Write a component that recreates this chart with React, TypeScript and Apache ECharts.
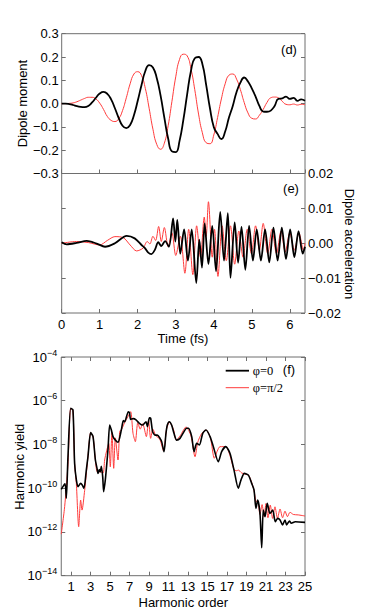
import React, { useEffect, useRef } from "react";
import * as echarts from "echarts";

// ---------- Panel (d): dipole moment vs time ----------
const dipoleTime = [
  0, 0.1, 0.2, 0.3, 0.4, 0.5, 0.6, 0.7, 0.8, 0.9, 1.0, 1.1, 1.2, 1.3, 1.4, 1.5, 1.6, 1.7, 1.8, 1.9,
  2.0, 2.1, 2.2, 2.3, 2.4, 2.5, 2.6, 2.7, 2.8, 2.9, 3.0, 3.1, 3.2, 3.3, 3.4, 3.5, 3.6, 3.7, 3.8, 3.9,
  4.0, 4.1, 4.2, 4.3, 4.4, 4.5, 4.6, 4.7, 4.8, 4.9, 5.0, 5.1, 5.2, 5.3, 5.4, 5.5, 5.6, 5.7, 5.8, 5.9,
  6.0, 6.1, 6.2, 6.3, 6.4,
];
const dipoleBlack = [
  0.0, 0.0, -0.002, -0.006, -0.011, -0.014, -0.015, -0.01, 0.005, 0.025, 0.043, 0.05, 0.042, 0.018, -0.02,
  -0.062, -0.095, -0.105, -0.092, -0.05, 0.012, 0.08, 0.14, 0.165, 0.155, 0.11, 0.035, -0.06, -0.15, -0.205,
  -0.208, -0.16, -0.07, 0.04, 0.14, 0.195, 0.2, 0.17, 0.08, -0.02, -0.1, -0.13, -0.152, -0.12, -0.06,
  -0.01, 0.05, 0.09, 0.112, 0.095, 0.065, 0.03, -0.01, -0.034, -0.035, -0.03, -0.01, 0.02, 0.022, 0.03,
  0.02, 0.025, 0.012, 0.018, 0.012,
];
const dipoleRed = [
  0, 0, 0.001, 0.003, 0.008, 0.015, 0.022, 0.027, 0.027, 0.02, 0.002, -0.025, -0.055, -0.072, -0.077,
  -0.065, -0.03, 0.025, 0.085, 0.127, 0.137, 0.12, 0.065, -0.02, -0.11, -0.175, -0.196, -0.17, -0.095, 0.01,
  0.115, 0.19, 0.212, 0.205, 0.15, 0.06, -0.045, -0.125, -0.168, -0.172, -0.135, -0.06, 0.02, 0.085, 0.122,
  0.127, 0.105, 0.06, 0.005, -0.04, -0.063, -0.066, -0.05, -0.025, 0.005, 0.025, 0.028, 0.025, 0.01, -0.003,
  -0.005, -0.002, -0.006, -0.003, -0.005,
];

// ---------- Panel (e): dipole acceleration vs time [t, value] ----------
const accelBlack: [number, number][] = [
  [0.0, 0.0003], [0.13, -0.0003], [0.39, 0.0001], [0.66, 0.0007], [0.92, -0.0001], [1.14, -0.001],
  [1.4, 0.0], [1.71, 0.0021], [1.92, 0.0014], [2.1, -0.0005], [2.19, -0.0014], [2.27, -0.0026],
  [2.36, -0.0031], [2.45, -0.0019], [2.54, 0.0003], [2.62, -0.0008], [2.72, 0.0006], [2.82, -0.001],
  [2.93, 0.0071], [2.99, 0.0005], [3.04, 0.0067], [3.12, -0.003], [3.22, 0.004], [3.32, -0.005],
  [3.42, 0.004], [3.54, -0.0114], [3.62, 0.001], [3.69, -0.007], [3.76, 0.0057], [3.86, -0.006],
  [3.96, 0.005], [4.06, -0.008], [4.17, 0.009], [4.27, -0.005], [4.37, 0.0086], [4.44, -0.0099],
  [4.55, 0.006], [4.64, -0.0056], [4.73, 0.0047], [4.83, -0.0076], [4.93, 0.005], [5.03, -0.005],
  [5.13, 0.004], [5.24, -0.005], [5.35, 0.004], [5.46, -0.0055], [5.57, 0.0045], [5.68, -0.005],
  [5.79, 0.0045], [5.9, -0.0045], [6.01, 0.004], [6.12, -0.004], [6.23, 0.0035], [6.34, -0.003],
  [6.4, -0.001],
];
const accelRed: [number, number][] = [
  [0.0, 0.0], [0.39, 0.0005], [0.7, 0.0002], [1.0, -0.0005], [1.2, 0.0008], [1.4, 0.0019],
  [1.62, 0.0016], [1.8, -0.0005], [1.97, -0.0022], [2.14, -0.0014], [2.25, 0.0005], [2.32, -0.0002],
  [2.4, 0.002], [2.47, 0.0008], [2.55, 0.0048], [2.62, 0.0005], [2.7, 0.0045], [2.8, -0.001],
  [2.9, 0.003], [3.0, -0.0035], [3.12, 0.002], [3.24, -0.0086], [3.34, 0.004], [3.45, -0.009],
  [3.55, 0.005], [3.65, -0.004], [3.75, 0.0075], [3.8, 0.002], [3.86, 0.0119], [3.96, -0.004],
  [4.02, 0.004], [4.11, -0.0095], [4.22, 0.005], [4.33, -0.005], [4.44, 0.005], [4.55, -0.006],
  [4.66, 0.0035], [4.77, -0.004], [4.88, 0.004], [4.99, -0.003], [5.1, 0.005], [5.2, -0.002],
  [5.3, 0.0057], [5.42, -0.003], [5.53, 0.004], [5.65, -0.003], [5.77, 0.0035], [5.88, -0.0025],
  [6.0, 0.003], [6.12, -0.002], [6.24, 0.003], [6.36, -0.002], [6.4, 0.0],
];

// ---------- Panel (f): harmonic spectrum [order, log10(yield)] ----------
const spectrumBlack: [number, number][] = [
  [0.0, -10.05], [0.28, -9.85], [0.4, -9.8], [0.52, -10.46], [0.69, -8.56], [0.97, -6.35], [1.2, -6.42],
  [1.37, -8.86], [1.55, -9.62], [1.72, -9.93], [1.99, -9.78], [2.15, -9.85], [2.33, -10.0], [2.57, -9.17],
  [2.74, -8.56], [3.02, -7.46], [3.26, -7.64], [3.5, -8.71], [3.67, -9.09], [3.77, -9.32], [3.9, -9.15],
  [4.0, -9.25], [4.11, -9.0], [4.25, -9.47], [4.35, -10.16], [4.52, -9.62], [4.69, -8.79], [4.8, -8.18],
  [4.97, -7.11], [5.14, -7.34], [5.31, -7.64], [5.55, -7.8], [5.82, -7.9], [6.16, -7.34], [6.37, -6.91],
  [6.5, -6.96], [6.88, -6.5], [7.0, -6.55], [7.12, -6.85], [7.39, -6.82], [7.67, -6.88], [8.01, -7.03],
  [8.35, -7.11], [8.69, -6.96], [8.83, -7.18], [9.05, -6.78], [9.17, -6.8], [9.37, -7.41], [9.61, -7.57],
  [9.85, -7.57], [10.13, -7.72], [10.3, -7.87], [10.54, -8.33], [10.74, -7.49], [10.88, -7.11],
  [11.08, -6.96], [11.32, -7.11], [11.56, -7.49], [11.84, -7.8], [12.18, -7.72], [12.59, -7.41],
  [12.86, -7.26], [13.04, -7.26], [13.38, -7.64], [13.62, -8.33], [13.89, -7.95], [14.17, -8.02],
  [14.51, -7.49], [14.85, -7.34], [15.26, -7.64], [15.6, -8.1], [16.11, -8.79], [16.45, -8.33],
  [16.87, -8.1], [17.3, -8.4], [17.72, -9.17], [18.16, -10.0], [18.44, -9.62], [18.78, -9.32],
  [19.19, -9.4], [19.53, -9.78], [19.77, -10.08], [19.97, -10.92], [20.15, -10.54], [20.38, -11.15],
  [20.56, -12.72], [20.72, -11.0], [20.9, -11.3], [21.13, -10.69], [21.4, -11.15], [21.69, -11.0],
  [21.95, -11.53], [22.2, -11.38], [22.44, -11.45], [22.7, -11.68], [22.95, -11.45], [23.12, -11.68],
  [23.4, -11.5], [23.6, -11.6], [24.0, -11.53], [25.0, -11.56],
];
const spectrumRed: [number, number][] = [
  [0.0, -12.1], [0.35, -10.84], [0.69, -8.9], [0.97, -6.35], [1.2, -6.45], [1.37, -8.86], [1.55, -9.8],
  [1.79, -11.76], [1.99, -10.54], [2.13, -11.0], [2.4, -10.1], [2.6, -9.2], [2.74, -8.56], [3.02, -7.46],
  [3.26, -7.64], [3.5, -8.71], [3.7, -9.25], [4.0, -9.25], [4.3, -9.3], [4.45, -8.71], [4.65, -8.3],
  [4.87, -7.95], [5.03, -9.02], [5.2, -7.45], [5.38, -9.09], [5.55, -7.7], [5.82, -8.71], [6.0, -7.4],
  [6.2, -7.3], [6.5, -7.0], [6.85, -6.72], [7.12, -6.5], [7.36, -7.49], [7.6, -7.87], [7.85, -7.0],
  [8.1, -7.3], [8.35, -7.05], [8.73, -7.64], [8.95, -6.9], [9.17, -7.72], [9.4, -7.3], [9.7, -7.6],
  [10.1, -7.75], [10.5, -8.3], [10.8, -7.3], [11.1, -6.98], [11.5, -7.3], [11.8, -7.8], [12.2, -7.6],
  [12.8, -7.2], [13.3, -7.6], [13.72, -8.56], [14.0, -7.9], [14.4, -7.5], [14.85, -7.34], [15.3, -7.7],
  [15.7, -8.63], [16.0, -8.3], [16.28, -8.1], [16.9, -8.1], [17.3, -8.5], [17.72, -9.15], [18.0, -9.2],
  [18.16, -9.17], [18.5, -9.3], [18.8, -9.35], [19.2, -9.4], [19.5, -9.7], [19.77, -10.1], [19.97, -10.6],
  [20.18, -10.62], [20.38, -11.2], [20.6, -10.75], [20.8, -11.3], [21.0, -10.7], [21.2, -11.35],
  [21.44, -10.77], [21.68, -11.38], [21.92, -10.85], [22.18, -11.38], [22.44, -10.95], [22.7, -11.35],
  [22.95, -11.05], [23.2, -11.3], [23.46, -11.1], [23.8, -11.2], [24.3, -11.22], [25.0, -11.27],
];

const harmonicTicks = [1, 3, 5, 7, 9, 11, 13, 15, 17, 19, 21, 23, 25];
const seriesNames = ["φ=0", "φ=π/2"];

const SANS = "'Liberation Sans', Arial, Helvetica, sans-serif";
const SERIF = "'Liberation Serif', 'Times New Roman', serif";
const FRAME = "#6e6e6e";
const RED = "#ff3b3b";
const minus = (s: string) => s.replace("-", "\u2212");

export default function App() {
  const ref = useRef<HTMLDivElement>(null);
  useEffect(() => {
    if (!ref.current) return;
    const chart = echarts.init(ref.current, undefined, { renderer: "svg" });
    const tick = { show: true, inside: true, length: 4, lineStyle: { color: FRAME, width: 1 } };
    const noLine = { show: false, onZero: false };
    const lbl = { fontSize: 13, fontFamily: SANS, color: "#000", lineHeight: 13 };
    const grids = [
      { left: 61.7, top: 33.7, width: 243.3, height: 139.8 },
      { left: 61.7, top: 173.5, width: 243.3, height: 139.5 },
      { left: 61.25, top: 357, width: 243.75, height: 218.7 },
    ].map((g) => ({ ...g, show: true, borderColor: FRAME, borderWidth: 1, backgroundColor: "transparent" }));

    const option: any = {
      animation: false,
      grid: grids,
      xAxis: [
        { gridIndex: 0, type: "value", min: 0, max: 6.4, interval: 1, axisLine: noLine, axisTick: tick, axisLabel: { show: false }, splitLine: { show: false } },
        { gridIndex: 1, type: "value", min: 0, max: 6.4, interval: 1, axisLine: noLine, axisTick: tick, axisLabel: { ...lbl, margin: 5, showMaxLabel: false }, splitLine: { show: false } },
        { gridIndex: 2, type: "value", min: 0, max: 25, axisLine: noLine, axisTick: { ...tick, customValues: harmonicTicks }, axisLabel: { ...lbl, margin: 4, customValues: harmonicTicks }, splitLine: { show: false } },
        { gridIndex: 2, type: "value", position: "top", min: 0, max: 25, axisLine: noLine, axisTick: { ...tick, customValues: harmonicTicks }, axisLabel: { show: false }, splitLine: { show: false } },
      ],
      yAxis: [
        { gridIndex: 0, type: "value", position: "left", min: -0.3, max: 0.3, interval: 0.1, axisLine: noLine, axisTick: tick, splitLine: { show: false }, axisLabel: { ...lbl, margin: 3, formatter: (v: number) => minus(v.toFixed(1)) } },
        { gridIndex: 0, type: "value", position: "right", min: -0.3, max: 0.3, interval: 0.1, axisLine: noLine, axisTick: tick, splitLine: { show: false }, axisLabel: { show: false } },
        { gridIndex: 1, type: "value", position: "left", min: -0.02, max: 0.02, interval: 0.01, axisLine: noLine, axisTick: tick, splitLine: { show: false }, axisLabel: { show: false } },
        { gridIndex: 1, type: "value", position: "right", min: -0.02, max: 0.02, interval: 0.01, axisLine: noLine, axisTick: tick, splitLine: { show: false }, axisLabel: { ...lbl, margin: 3, formatter: (v: number) => minus(v.toFixed(2)) } },
        {
          gridIndex: 2, type: "value", position: "left", min: -14, max: -4, interval: 2, axisLine: noLine, axisTick: tick, splitLine: { show: false },
          axisLabel: {
            margin: 4,
            formatter: (v: number) => `{b|10}{s|\u2212${Math.abs(Math.round(v))}}`,
            rich: {
              b: { fontSize: 13, fontFamily: SANS, color: "#000" },
              s: { fontSize: 9, fontFamily: SANS, color: "#000", padding: [0, 0, 9, 0] },
            },
          },
        },
        { gridIndex: 2, type: "value", position: "right", min: -14, max: -4, interval: 2, axisLine: noLine, axisTick: tick, splitLine: { show: false }, axisLabel: { show: false } },
      ],
      series: [
        { name: seriesNames[1], type: "line", xAxisIndex: 0, yAxisIndex: 0, showSymbol: false, smooth: true, lineStyle: { color: RED, width: 1 }, data: dipoleTime.map((t, i) => [t, dipoleRed[i]]) },
        { name: seriesNames[0], type: "line", xAxisIndex: 0, yAxisIndex: 0, showSymbol: false, smooth: true, lineStyle: { color: "#000", width: 1.8 }, data: dipoleTime.map((t, i) => [t, dipoleBlack[i]]) },
        { name: seriesNames[1], type: "line", xAxisIndex: 1, yAxisIndex: 3, showSymbol: false, smooth: 0.3, lineStyle: { color: RED, width: 1 }, data: accelRed },
        { name: seriesNames[0], type: "line", xAxisIndex: 1, yAxisIndex: 3, showSymbol: false, smooth: 0.3, lineStyle: { color: "#000", width: 1.8 }, data: accelBlack },
        { name: seriesNames[1], type: "line", xAxisIndex: 2, yAxisIndex: 4, showSymbol: false, smooth: 0.25, lineStyle: { color: RED, width: 1 }, data: spectrumRed },
        { name: seriesNames[0], type: "line", xAxisIndex: 2, yAxisIndex: 4, showSymbol: false, smooth: 0.25, lineStyle: { color: "#000", width: 1.6 }, data: spectrumBlack },
      ],
      graphic: [
        { type: "text", x: 22, y: 103.5, rotation: Math.PI / 2, style: { text: "Dipole moment", fontSize: 13, fontFamily: SANS, fill: "#000", align: "center", verticalAlign: "middle" } },
        { type: "text", x: 349, y: 244, rotation: -Math.PI / 2, style: { text: "Dipole acceleration", fontSize: 13, fontFamily: SANS, fill: "#000", align: "center", verticalAlign: "middle" } },
        { type: "text", x: 19.5, y: 466.7, rotation: Math.PI / 2, style: { text: "Harmonic yield", fontSize: 13, fontFamily: SANS, fill: "#000", align: "center", verticalAlign: "middle" } },
        { type: "text", x: 183, y: 338, style: { text: "Time (fs)", fontSize: 13, fontFamily: SANS, fill: "#000", align: "center", verticalAlign: "middle", lineHeight: 13 } },
        { type: "text", x: 183.3, y: 602, style: { text: "Harmonic order", fontSize: 13, fontFamily: SANS, fill: "#000", align: "center", verticalAlign: "middle", lineHeight: 13 } },
        { type: "text", x: 289, y: 49, style: { text: "(d)", fontSize: 13, fontFamily: SANS, fill: "#000", align: "center", verticalAlign: "middle" } },
        { type: "text", x: 291, y: 188, style: { text: "(e)", fontSize: 13, fontFamily: SANS, fill: "#000", align: "center", verticalAlign: "middle" } },
        { type: "text", x: 289, y: 369, style: { text: "(f)", fontSize: 13, fontFamily: SANS, fill: "#000", align: "center", verticalAlign: "middle" } },
        { type: "line", shape: { x1: 225.7, y1: 370.7, x2: 249, y2: 370.7 }, style: { stroke: "#000", lineWidth: 1.8 } },
        { type: "line", shape: { x1: 225.7, y1: 387.7, x2: 249, y2: 387.7 }, style: { stroke: RED, lineWidth: 1 } },
        { type: "text", x: 252.7, y: 370.5, style: { text: seriesNames[0], fontSize: 12.5, fontFamily: SERIF, fill: "#000", align: "left", verticalAlign: "middle" } },
        { type: "text", x: 252.7, y: 387.5, style: { text: seriesNames[1], fontSize: 12.5, fontFamily: SERIF, fill: "#000", align: "left", verticalAlign: "middle" } },
      ],
    };
    chart.setOption(option);
    return () => chart.dispose();
  }, []);
  return <div ref={ref} style={{ position: "absolute", left: 0, top: 0, width: 374, height: 610, background: "#fff" }} />;
}
